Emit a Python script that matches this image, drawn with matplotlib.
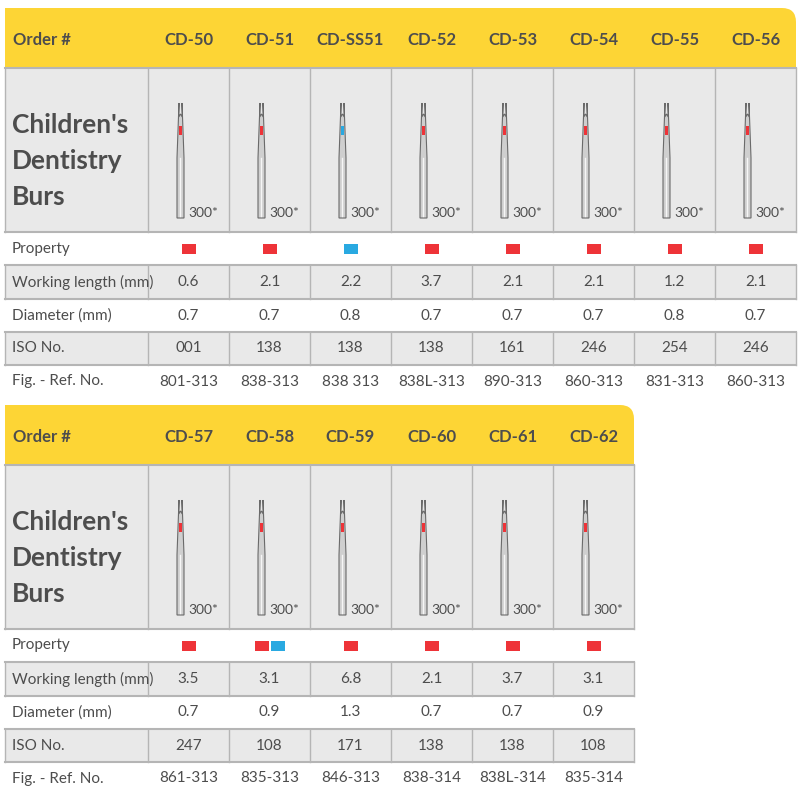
import matplotlib.pyplot as plt
from matplotlib.patches import FancyBboxPatch, Rectangle, Polygon

plt.rcParams['font.family'] = ['Lato', 'DejaVu Sans']

# data
orders1 = ["CD-50", "CD-51", "CD-SS51", "CD-52", "CD-53", "CD-54", "CD-55", "CD-56"]
props1 = [["r"], ["r"], ["b"], ["r"], ["r"], ["r"], ["r"], ["r"]]
work1 = ["0.6", "2.1", "2.2", "3.7", "2.1", "2.1", "1.2", "2.1"]
diam1 = ["0.7", "0.7", "0.8", "0.7", "0.7", "0.7", "0.8", "0.7"]
iso1 = ["001", "138", "138", "138", "161", "246", "254", "246"]
ref1 = ["801-313", "838-313", "838 313", "838L-313", "890-313", "860-313", "831-313", "860-313"]

orders2 = ["CD-57", "CD-58", "CD-59", "CD-60", "CD-61", "CD-62"]
props2 = [["r"], ["r", "b"], ["r"], ["r"], ["r"], ["r"]]
work2 = ["3.5", "3.1", "6.8", "2.1", "3.7", "3.1"]
diam2 = ["0.7", "0.9", "1.3", "0.7", "0.7", "0.9"]
iso2 = ["247", "108", "171", "138", "138", "108"]
ref2 = ["861-313", "835-313", "846-313", "838-314", "838L-314", "835-314"]

colors = {"r": "#ee3338", "b": "#29a9e1"}
YEL = "#fdd535"
GRAY = "#e9e9e9"
LINE = "#b5b5b5"
TXT = "#4d4d4d"

fig = plt.figure(figsize=(8, 8), dpi=100)
ax = fig.add_axes([0, 0, 1, 1])
ax.set_xlim(0, 800)
ax.set_ylim(800, 0)
ax.axis("off")


def draw_bur(ax, cx, top, bottom, band):
    # simple bur silhouette: shank, long tapered neck, rounded head with colour band
    shank_top = bottom - 60
    ax.add_patch(Polygon([(cx - 3.5, bottom), (cx + 3.5, bottom), (cx + 3.5, shank_top),
                          (cx + 1.5, shank_top - 55), (cx + 1.8, top + 3), (cx, top),
                          (cx - 1.8, top + 3), (cx - 1.5, shank_top - 55),
                          (cx - 3.5, shank_top)],
                         closed=True, fc="#cfcfcf", ec="#6a6a6a", lw=0.8))
    ax.plot([cx - 0.5, cx - 0.5], [bottom - 2, shank_top], color="#f6f6f6", lw=1)
    ax.add_patch(Rectangle((cx - 1.9, top + 12), 3.8, 9, fc=colors[band], ec="none"))


def draw_table(ax, y0, ncols, orders, props, work, diam, iso, ref):
    x0, w0, cw = 5, 143, 81
    right = x0 + w0 + cw * ncols
    rows = [y0, y0 + 60, y0 + 224, y0 + 257, y0 + 291, y0 + 324, y0 + 357, y0 + 390]
    # header
    ax.add_patch(FancyBboxPatch((x0, rows[0]), right - x0, 60,
                                boxstyle="round,pad=0,rounding_size=14",
                                fc=YEL, ec="none"))
    ax.add_patch(Rectangle((x0, rows[0] + 30), right - x0, 30, fc=YEL, ec="none"))
    ax.add_patch(Rectangle((x0, rows[0]), 30, 30, fc=YEL, ec="none"))
    ax.text(x0 + 8, rows[0] + 32, "Order #", fontsize=12, fontweight="bold",
            color=TXT, va="center")
    cxs = [x0 + w0 + cw * (i + 0.5) for i in range(ncols)]
    for cx, o in zip(cxs, orders):
        ax.text(cx, rows[0] + 32, o, fontsize=12, fontweight="bold",
                color=TXT, va="center", ha="center")
    # grey rows
    for i in (1, 3, 5):
        ax.add_patch(Rectangle((x0, rows[i]), right - x0, rows[i + 1] - rows[i],
                               fc=GRAY, ec="none"))
    # horizontal lines
    for i in range(1, 7):
        ax.plot([x0, right], [rows[i], rows[i]], color=LINE, lw=1.5)
    # vertical lines in grey rows
    for i in (1, 3, 5):
        for k in range(ncols + 1):
            x = x0 + w0 + cw * k
            ax.plot([x, x], [rows[i], rows[i + 1]], color=LINE, lw=1)
        ax.plot([x0, x0], [rows[i], rows[i + 1]], color=LINE, lw=1)
    ax.text(x0 + 7, rows[1] + 93, "Children's\nDentistry\nBurs", fontsize=19,
            fontweight="bold", color=TXT, va="center", linespacing=1.6)
    labels = ["Property", "Working length (mm)", "Diameter (mm)", "ISO No.", "Fig. - Ref. No."]
    for j, lab in enumerate(labels):
        ax.text(x0 + 7, (rows[j + 2] + rows[j + 3]) / 2, lab, fontsize=11,
                color=TXT, va="center")
    for k, cx in enumerate(cxs):
        draw_bur(ax, cx - 8, rows[1] + 46, rows[1] + 150, props[k][0])
        ax.text(cx + 15, rows[1] + 145, "300*", fontsize=10, color=TXT, ha="center", va="center")
        n = len(props[k])
        for m, p in enumerate(props[k]):
            px = cx - 7 - (n - 1) * 8 + m * 16
            ax.add_patch(Rectangle((px, (rows[2] + rows[3]) / 2 - 5), 14, 10,
                                   fc=colors[p], ec="none"))
        for j, vals in enumerate([work, diam, iso, ref]):
            ax.text(cx, (rows[j + 3] + rows[j + 4]) / 2, vals[k], fontsize=11,
                    color=TXT, ha="center", va="center")


draw_table(ax, 8, 8, orders1, props1, work1, diam1, iso1, ref1)
draw_table(ax, 405, 6, orders2, props2, work2, diam2, iso2, ref2)

fig.savefig("out.png", dpi=100, facecolor="white")
